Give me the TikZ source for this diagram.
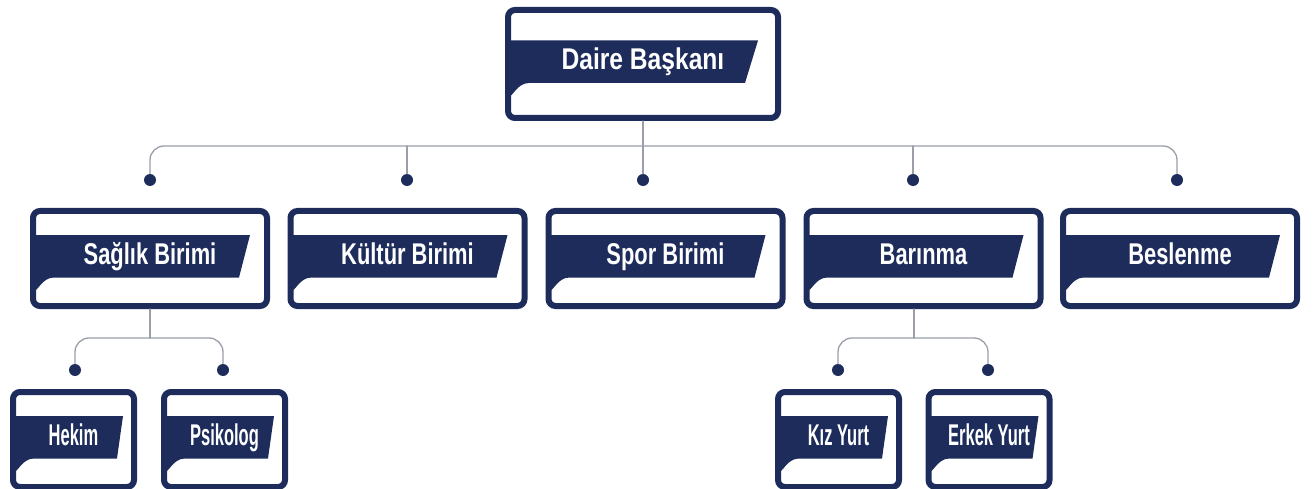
\documentclass[tikz,border=0pt]{standalone}
\usepackage{fontspec}
\usepackage{tikz}
\usepackage{xcolor}
\newfontfamily\topfont{Liberation Sans}[FakeStretch=0.82]
\newfontfamily\unitfont{Liberation Sans}[FakeStretch=0.73]
\newfontfamily\subfont{Liberation Sans}[FakeStretch=0.55]
\definecolor{navy}{HTML}{1D2C5B}
\definecolor{linkgray}{HTML}{9A9EA8}
\newcommand{\bandfill}[2]{%
  \fill[navy,draw=none,sharp corners] ([yshift=23.5pt]path picture bounding box.west)
    -- ([xshift=-#1pt,yshift=23.5pt]path picture bounding box.east)
    -- ([xshift=-#2pt,yshift=-19pt]path picture bounding box.east)
    -- ([xshift=21pt,yshift=-19pt]path picture bounding box.west)
    .. controls ([xshift=9pt,yshift=-19pt]path picture bounding box.west) and ([xshift=5pt,yshift=-33pt]path picture bounding box.west) .. ([yshift=-33pt]path picture bounding box.west)
    -- cycle;}

\begin{document}
\begin{tikzpicture}[x=1pt,y=-1pt,line cap=round,
  box/.style={draw=navy,line width=6pt,rounded corners=7pt,inner sep=0pt,text=white,
    text height=21.5pt,text depth=10pt},
  headbox/.style={box,minimum width=270pt,minimum height=108pt,
    font={\topfont\bfseries\fontsize{30pt}{30pt}\selectfont},path picture={\bandfill{20}{33}}},
  midbox/.style={box,minimum width=234pt,minimum height=95pt,
    font={\unitfont\bfseries\fontsize{30pt}{30pt}\selectfont},path picture={\bandfill{17}{28}}},
  leafbox/.style={box,minimum width=121pt,minimum height=95pt,
    font={\subfont\bfseries\fontsize{30pt}{30pt}\selectfont},path picture={\bandfill{11}{17}}},
  dot/.style={circle,fill=navy,inner sep=0pt,minimum size=12pt},
  link/.style={draw=linkgray,line width=1.3pt}]
\useasboundingbox (0,0) rectangle (1314,489);
\clip (0,0) rectangle (1314,489);

\node[headbox] (head) at (643,64) {Daire Başkanı};

\node[midbox] (saglik) at (150,258.5) {Sağlık Birimi};
\node[midbox] (kultur) at (407.5,258.5) {Kültür Birimi};
\node[midbox] (spor) at (665.5,258.5) {Spor Birimi};
\node[midbox] (barinma) at (923.5,258.5) {Barınma};
\node[midbox] (beslenme) at (1180,258.5) {Beslenme};

\node[leafbox] (hekim) at (73.5,439.5) {Hekim};
\node[leafbox] (psikolog) at (224.5,439.5) {Psikolog};
\node[leafbox] (kiz) at (838.5,439.5) {Kız Yurt};
\node[leafbox] (erkek) at (989,439.5) {Erkek Yurt};

\node[dot] (p1) at (150,180) {};
\node[dot] (p2) at (407,180) {};
\node[dot] (p3) at (643,180) {};
\node[dot] (p4) at (913,180) {};
\node[dot] (p5) at (1177,180) {};
\node[dot] (q1) at (75,370) {};
\node[dot] (q2) at (223,370) {};
\node[dot] (q3) at (838,370) {};
\node[dot] (q4) at (988,370) {};

\coordinate (bus) at (643,146);
\coordinate (sbus) at (150,338);
\coordinate (bbus) at (914,338);

\draw[link,rounded corners=14pt] (p1) |- (bus) -| (p5);
\draw[link] (head) -- (p3);
\draw[link] (p2) -- (p2 |- bus);
\draw[link] (p4) -- (p4 |- bus);

\draw[link] (saglik) -- (sbus);
\draw[link,rounded corners=14pt] (q1) |- (sbus) -| (q2);
\draw[link] (bbus |- barinma.south) -- (bbus);
\draw[link,rounded corners=14pt] (q3) |- (bbus) -| (q4);
\end{tikzpicture}
\end{document}
